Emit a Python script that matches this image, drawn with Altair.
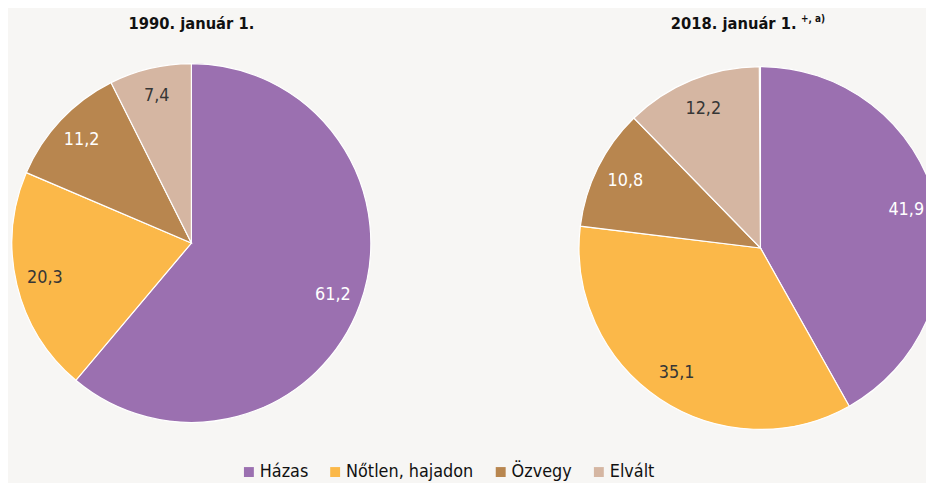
import altair as alt
import pandas as pd

categories = ["Házas", "Nőtlen, hajadon", "Özvegy", "Elvált"]
values_1990 = [61.2, 20.3, 11.2, 7.4]
values_2018 = [41.9, 35.1, 10.8, 12.2]
colors = ["#9b70b0", "#fbb849", "#b8864f", "#d5b6a2"]
title_1990 = ["1990. január 1."]
title_2018 = ["2018. január 1."]
title_2018_sup = ["+, a)"]

rows = []
for yr, vals in (("1990", values_1990), ("2018", values_2018)):
    for i, (c, v) in enumerate(zip(categories, vals)):
        rows.append({"year": yr, "category": c, "value": v, "order": i,
                     "label": f"{v:.1f}".replace(".", ",")})
df = pd.DataFrame(rows)

FONT = "DejaVu Sans Condensed, Liberation Sans, sans-serif"
BG = "#f7f6f4"


def pie(year, cx, cy, r, lr, legend):
    base = alt.Chart(df).transform_filter(alt.datum.year == year)
    if legend:
        leg = alt.Legend(orient="none", legendX=234, legendY=457, direction="horizontal",
                         title=None, symbolType="square", symbolSize=100,
                         symbolStrokeWidth=0, labelFont=FONT, labelFontSize=18,
                         labelColor="#111111", columnPadding=18, labelOffset=2)
    else:
        leg = None
    col = alt.Color("category:N", scale=alt.Scale(domain=categories, range=colors),
                    legend=leg)
    arc = base.mark_arc(stroke="white", strokeWidth=1.2).encode(
        theta=alt.Theta("value:Q", stack=True),
        color=col,
        order=alt.Order("order:Q"),
        x=alt.value(cx), y=alt.value(cy), radius=alt.value(r),
    )
    txt = base.mark_text(font=FONT, fontSize=18).encode(
        theta=alt.Theta("value:Q", stack=True),
        order=alt.Order("order:Q"),
        text="label:N",
        x=alt.value(cx), y=alt.value(cy), radius=alt.value(lr),
        color=alt.condition("datum.category == 'Házas' || datum.category == 'Özvegy'",
                            alt.value("white"), alt.value("#363636")),
    )
    return [arc, txt]


def label(texts, x, y, size, align="center", baseline="middle"):
    return alt.Chart(pd.DataFrame({"t": texts})).mark_text(
        font=FONT, fontSize=size, fontWeight="bold", color="#111111",
        align=align, baseline=baseline,
    ).encode(text="t:N", x=alt.value(x), y=alt.value(y))


layers = (pie("1990", 185, 235, 181, 152, True)
          + pie("2018", 759, 240, 183, 152, False)
          + [label(title_1990, 185, 14, 16.5),
             label(title_2018, 732, 14, 16.5),
             label(title_2018_sup, 800, 9, 10, align="left")])

chart = alt.layer(*layers).properties(
    width=926, height=475, padding=0,
    autosize=alt.AutoSizeParams(type="none"),
    background=BG,
).configure_view(stroke=None)

chart.save("out.html", embed_options={"renderer": "svg", "actions": False})
